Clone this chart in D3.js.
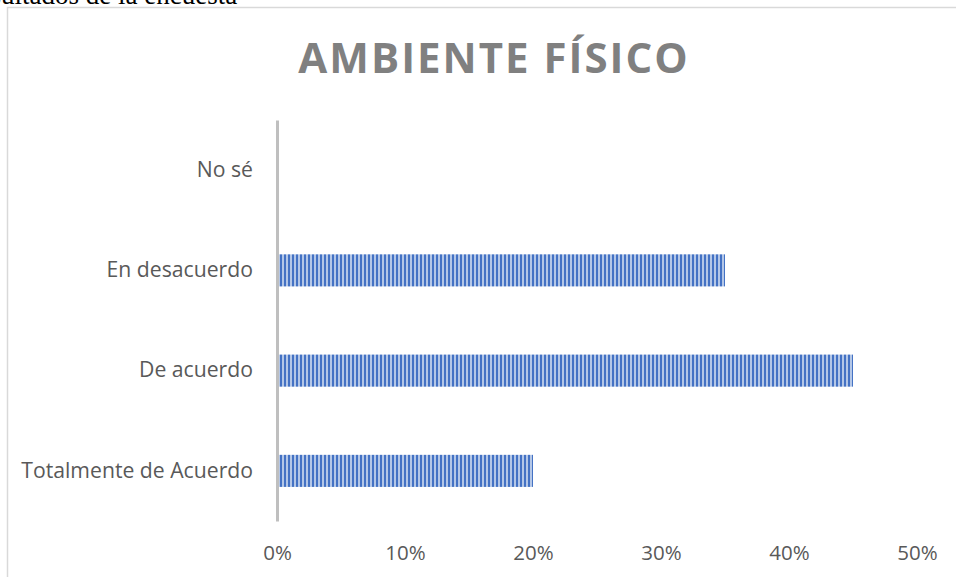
<!DOCTYPE html>
<html><head><meta charset="utf-8">
<script src="https://cdn.jsdelivr.net/npm/d3@7"></script>
<style>body{margin:0;background:#fff;overflow:hidden}svg{display:block}</style>
</head><body>
<svg id="c" width="956" height="577"></svg>
<script>
const categories = ["No sé", "En desacuerdo", "De acuerdo", "Totalmente de Acuerdo"];
const values = [0, 0.35, 0.45, 0.20];
const xTicks = [0, 0.1, 0.2, 0.3, 0.4, 0.5];
const title = "AMBIENTE FÍSICO";
const caption = "Resultados de la encuesta";

const svg = d3.select("#c");
const defs = svg.append("defs");
const pat = defs.append("pattern").attr("id","stripes").attr("patternUnits","userSpaceOnUse")
  .attr("width",4).attr("height",8);
pat.append("rect").attr("width",4).attr("height",8).attr("fill","#b4c7e7");
pat.append("rect").attr("width",2).attr("height",8).attr("fill","#4472c4");

// caption cut at top (as in the source page)
const capFont = "'Liberation Serif', 'Times New Roman', serif";
const capSize = 27;
const cap = svg.append("text").text(caption).attr("font-family",capFont)
  .attr("font-size",capSize).attr("fill","#000").attr("y",4);
const pre = svg.append("text").text("Res").attr("font-family",capFont).attr("font-size",capSize);
const preW = pre.node().getComputedTextLength();
pre.remove();
cap.attr("x", -preW + 1);

// chart border
svg.append("rect").attr("x",7.5).attr("y",7.5).attr("width",1000).attr("height",600)
  .attr("fill","none").attr("stroke","#d9d9d9").attr("stroke-width",1.5);

const x = d3.scaleLinear().domain([0,0.5]).range([277,917]);
const y = d3.scaleBand().domain(categories).range([120,521]).paddingInner(0.68).paddingOuter(0.34);

// title
svg.append("text").text(title).attr("x",494).attr("y",73).attr("text-anchor","middle")
  .attr("font-family","'Open Sans', sans-serif").attr("font-weight","bold").attr("font-size",42)
  .attr("letter-spacing","2px").attr("fill","#808080");

// bars
svg.append("g").selectAll("rect").data(categories).join("rect")
  .attr("x", x(0)).attr("y", d => y(d)).attr("height", y.bandwidth())
  .attr("width", (d,i) => x(values[i]) - x(0)).attr("fill","url(#stripes)");

// y axis
const yAxis = d3.axisLeft(y).tickSize(0).tickPadding(24);
const gy = svg.append("g").attr("transform",`translate(${x(0)},0)`).call(yAxis);
gy.select(".domain").attr("stroke","#bfbfbf").attr("stroke-width",3);
gy.selectAll("text").attr("font-family","'Open Sans', sans-serif").attr("font-size",21.2).attr("fill","#595959");

// x axis (labels only)
const xAxis = d3.axisBottom(x).tickValues(xTicks).tickFormat(d3.format(".0%")).tickSize(0).tickPadding(0);
const gx = svg.append("g").attr("transform","translate(0,540)").call(xAxis);
gx.select(".domain").remove();
gx.selectAll("text").attr("font-family","'Open Sans', sans-serif").attr("font-size",20.5).attr("fill","#595959").attr("dy","0").attr("y",20);
</script>
</body></html>
